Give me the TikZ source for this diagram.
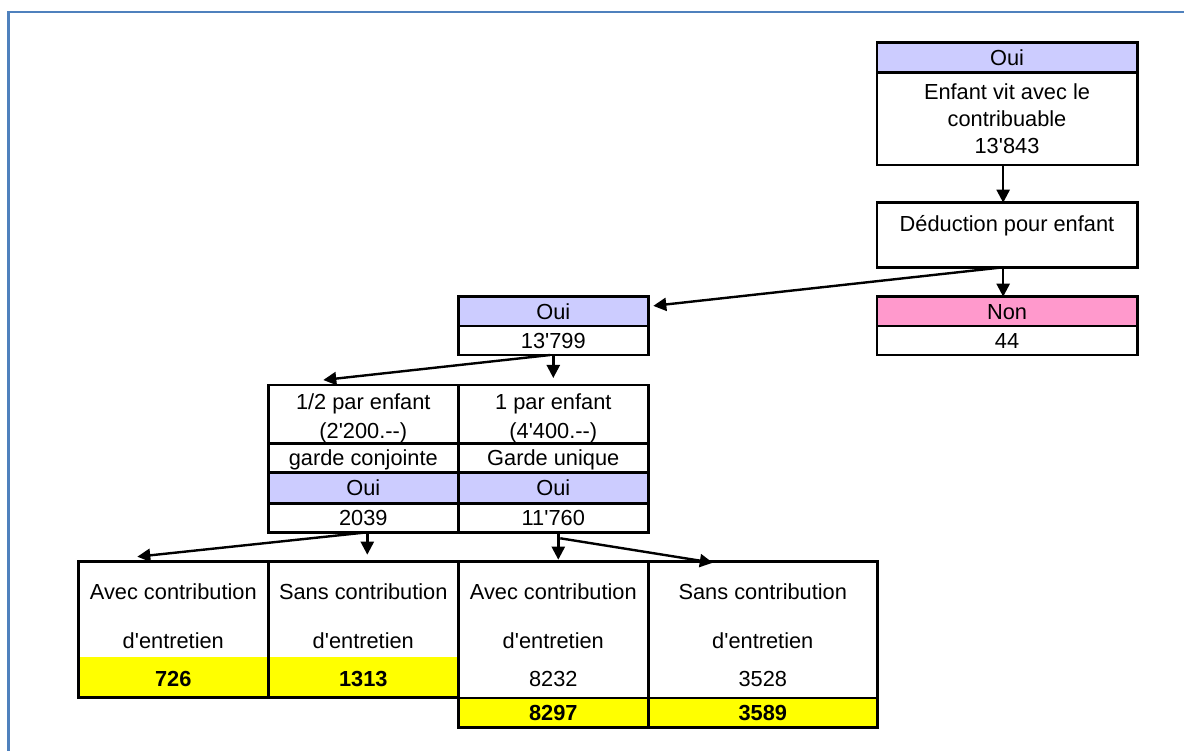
\documentclass[tikz,border=0pt]{standalone}
\usepackage{fontspec}
\setmainfont{Liberation Sans}[Ligatures=TeXOff]
\usetikzlibrary{arrows.meta,calc}
\definecolor{lav}{RGB}{204,204,255}
\definecolor{pinkc}{RGB}{255,153,204}
\definecolor{yel}{RGB}{255,255,0}
\definecolor{frameblue}{RGB}{79,129,189}
\begin{document}
\begin{tikzpicture}[x=1pt,y=-1pt,
  cellbox/.style={draw=black,line width=2.6pt,anchor=north west,inner sep=0pt,outer sep=0pt},
  lavcell/.style={cellbox,fill=lav},
  pinkcell/.style={cellbox,fill=pinkc},
  yelcell/.style={cellbox,fill=yel},
  yelfill/.style={fill=yel,anchor=north west,inner sep=0pt,outer sep=0pt},
  lbl/.style={inner sep=0pt,text height=15.4pt,text depth=0pt,font=\fontsize{21.8}{24}\selectfont},
  blbl/.style={lbl,font=\fontsize{21.8}{24}\selectfont\bfseries},
  arr/.style={line width=2.4pt,-{Triangle[length=13pt,width=13pt]}},
  framel/.style={draw=frameblue,line width=2.5pt}
]
\useasboundingbox (0,0) rectangle (1184,751);
\fill[white] (0,0) rectangle (1184,751);
\draw[framel] (8.5,751) -- (8.5,12) -- (1184,12);

% top right column
\node[lavcell,minimum width=260.3pt,minimum height=29.6pt] (tOui) at (877,42.7) {};
\node[cellbox,minimum width=260.3pt,minimum height=92.7pt] (tBody) at (877,72.3) {};
\node[cellbox,minimum width=260.3pt,minimum height=64.6pt] (ded) at (877,202.7) {};
\node[pinkcell,minimum width=260.3pt,minimum height=29.3pt] (nonB) at (877,296.7) {};
\node[cellbox,minimum width=260.3pt,minimum height=29pt] (n44) at (877,326) {};

\node[lbl] (tOuiT) at (1007,58) {Oui};
\node[lbl] (tBodyA) at (1007,91.5) {Enfant vit avec le};
\node[lbl] (tBodyB) at (1007,119) {contribuable};
\node[lbl] (tBodyC) at (1007,146) {13'843};
\node[lbl] (dedT) at (1007,224) {Déduction pour enfant};
\node[lbl] (nonT) at (1007,312) {Non};
\node[lbl] (n44T) at (1007,341) {44};

% middle Oui
\node[lavcell,minimum width=190pt,minimum height=29.3pt] (mOui) at (458.3,296.7) {};
\node[cellbox,minimum width=190pt,minimum height=29pt] (m13799) at (458.3,326) {};
\node[lbl] (mOuiT) at (553.3,311.5) {Oui};
\node[lbl] (m13799T) at (553.3,341) {13'799};

% middle table
\node[cellbox,minimum width=190pt,minimum height=58.3pt] (r1a) at (268.3,385) {};
\node[cellbox,minimum width=190pt,minimum height=29.4pt] (r2a) at (268.3,443.3) {};
\node[lavcell,minimum width=190pt,minimum height=30.6pt] (r3a) at (268.3,472.7) {};
\node[cellbox,minimum width=190pt,minimum height=29pt] (r4a) at (268.3,503.3) {};
\node[cellbox,minimum width=190pt,minimum height=58.3pt] (r1b) at (458.3,385) {};
\node[cellbox,minimum width=190pt,minimum height=29.4pt] (r2b) at (458.3,443.3) {};
\node[lavcell,minimum width=190pt,minimum height=30.6pt] (r3b) at (458.3,472.7) {};
\node[cellbox,minimum width=190pt,minimum height=29pt] (r4b) at (458.3,503.3) {};

\node[lbl] (r1aT) at (363.3,402) {1/2 par enfant};
\node[lbl] (r1aU) at (363.3,430.5) {(2'200.--)};
\node[lbl] (r2aT) at (363.3,458) {garde conjointe};
\node[lbl] (r3aT) at (363.3,488) {Oui};
\node[lbl] (r4aT) at (363.3,517.5) {2039};
\node[lbl] (r1bT) at (553.3,402) {1 par enfant};
\node[lbl] (r1bU) at (553.3,430.5) {(4'400.--)};
\node[lbl] (r2bT) at (553.3,458) {Garde unique};
\node[lbl] (r3bT) at (553.3,488) {Oui};
\node[lbl] (r4bT) at (553.3,517.5) {11'760};

% bottom left group
\node[yelfill,minimum width=190pt,minimum height=41pt] (ya) at (78.3,656.7) {};
\node[yelfill,minimum width=190pt,minimum height=41pt] (yb) at (268.3,656.7) {};
\node[cellbox,minimum width=190pt,minimum height=136pt] (ba) at (78.3,561.7) {};
\node[cellbox,minimum width=190pt,minimum height=136pt] (bb) at (268.3,561.7) {};
% bottom right group
\node[cellbox,minimum width=190pt,minimum height=136.3pt] (bc) at (458.3,561.7) {};
\node[cellbox,minimum width=229pt,minimum height=136.3pt] (bd) at (648.3,561.7) {};
\node[yelcell,minimum width=190pt,minimum height=29.3pt] (yc) at (458.3,698) {};
\node[yelcell,minimum width=229pt,minimum height=29.3pt] (yd) at (648.3,698) {};

\node[lbl] (baT) at (173.3,592) {Avec contribution};
\node[lbl] (baU) at (173.3,641) {d'entretien};
\node[blbl] (yaT) at (173.3,679) {726};
\node[lbl] (bbT) at (363.3,592) {Sans contribution};
\node[lbl] (bbU) at (363.3,641) {d'entretien};
\node[blbl] (ybT) at (363.3,679) {1313};
\node[lbl] (bcT) at (553.3,592) {Avec contribution};
\node[lbl] (bcU) at (553.3,641) {d'entretien};
\node[lbl] (bcV) at (553.3,679) {8232};
\node[blbl] (ycT) at (553.3,712.5) {8297};
\node[lbl] (bdT) at (762.8,592) {Sans contribution};
\node[lbl] (bdU) at (762.8,641) {d'entretien};
\node[lbl] (bdV) at (762.8,679) {3528};
\node[blbl] (ydT) at (762.8,712.5) {3589};

% connectors
\draw[arr] ($(tBody.south)+(-4,0)$) -- ($(ded.north)+(-4,0)$);
\draw[arr] ($(ded.south)+(-4,0)$) -- ($(nonB.north)+(-4,0)$);
\draw[arr] ($(ded.south)+(-4,0)$) -- ($(mOui.east)+(5,-5.5)$);
\draw[arr] ($(m13799.south)+(-3,0)$) -- ($(r1a.north)+(-40,-5)$);
\draw[arr] (m13799.south) -- ($(r1b.north)+(0,-7)$);
\draw[arr] ($(r4a.south)+(4,0)$) -- ($(ba.north)+(-36,-5)$);
\draw[arr] ($(r4a.south)+(4,0)$) -- ($(bb.north)+(4,-7)$);
\draw[arr] ($(r4b.south)+(5,0)$) -- ($(bc.north)+(5,-2)$);
\draw[arr] ($(r4b.south)+(7,6)$) -- ($(bd.north)+(-50,1)$);
\end{tikzpicture}
\end{document}
